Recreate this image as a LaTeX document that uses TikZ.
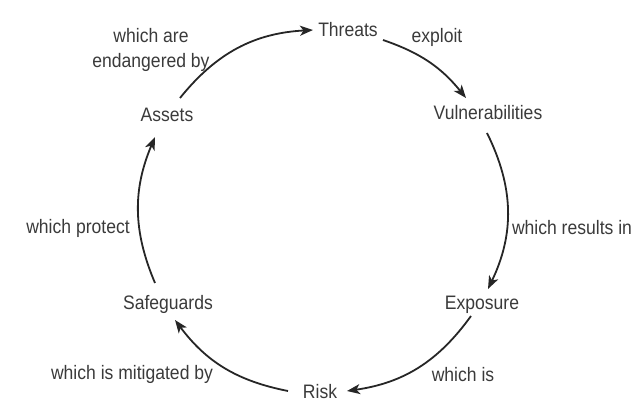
\documentclass[tikz,border=0pt]{standalone}
\usepackage{fontspec}
\setmainfont{Liberation Sans}[FakeStretch=0.9]
\usepackage{tikz}
\usetikzlibrary{arrows.meta, positioning}
\definecolor{inkgray}{HTML}{3A3A3A}
\tikzset{%
   % the six stages of the cycle
   stage/.style={
      inner sep=2pt,
      text=inkgray,
      font=\fontsize{19.5}{23}\selectfont
   },
   % the words written beside an arrow
   verb/.style={
      inner sep=2pt,
      text=inkgray,
      align=center,
      font=\fontsize{19.5}{25}\selectfont
   },
   flow/.style={
      draw=black!85,
      line width=1.8pt,
      -{Stealth[length=13pt, width=10pt, inset=3.5pt]}
   },
}

\begin{document}
\begin{tikzpicture}[x=1pt, y=1pt]
   \useasboundingbox (0,0) rectangle (640,412);
   \node[stage] (T) at (348,382) {Threats};
   \node[stage] (V) at (488,299) {Vulnerabilities};
   \node[stage] (E) at (482,107) {Exposure};
   \node[stage] (R) at (320,20) {Risk};
   \node[stage] (S) at (168,108) {Safeguards};
   \node[stage] (A) at (167,297) {Assets};
   \node[verb] (lAT) at (151,362) {which are\\endangered by};
   \node[verb] (lTV) at (437,375) {exploit};
   \node[verb] (lVE) at (572,184) {which results in};
   \node[verb] (lER) at (463,37) {which is};
   \node[verb] (lRS) at (132,38) {which is mitigated by};
   \node[verb] (lSA) at (78,184) {which protect};
   \draw[flow] ([shift={(13,17)}]A.center) to[bend left=24] ([shift={(-35,0)}]T.center);
   \draw[flow] ([shift={(35,-10)}]T.center) to[bend left=16] ([shift={(-22,15)}]V.center);
   \draw[flow] ([shift={(-1,-20)}]V.center) to[bend left=26] ([shift={(6,16)}]E.center);
   \draw[flow] ([shift={(-11,-11)}]E.center) to[bend left=23] ([shift={(27,1)}]R.center);
   \draw[flow] ([shift={(-32,1)}]R.center) to[bend left=21] ([shift={(7,-16)}]S.center);
   \draw[flow] ([shift={(-13,21)}]S.center) to[bend left=23] ([shift={(-12,-22)}]A.center);
\end{tikzpicture}
\end{document}
